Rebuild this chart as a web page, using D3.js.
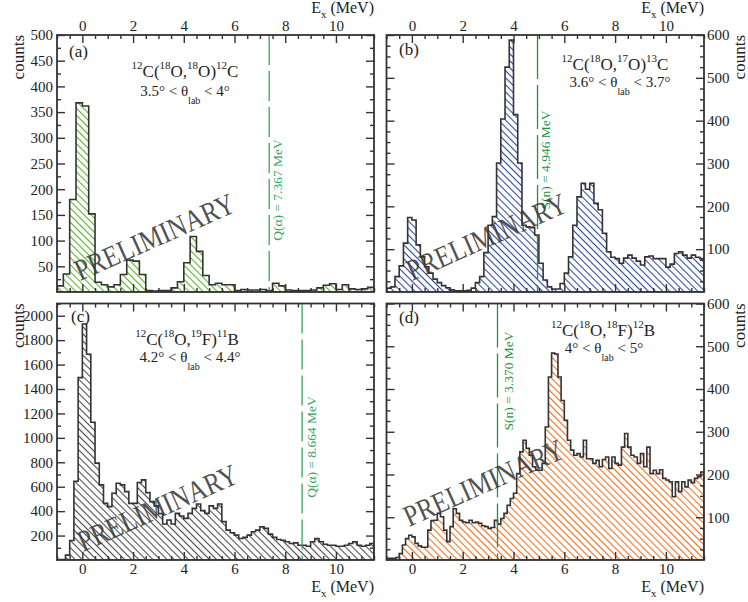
<!DOCTYPE html>
<html>
<head>
<meta charset="utf-8">
<script src="https://cdn.jsdelivr.net/npm/d3@7"></script>
<style>
  body { margin: 0; background: #fff; }
  svg { display: block; }
  text { font-family: "Liberation Serif", "Times New Roman", serif; }
</style>
</head>
<body>
<div id="chart"></div>
<script>
// --- données ---
// (a) 12C(18O,18O)12C : bins de 0.25 MeV depuis -1 MeV
const countsA = [12,35,180,368,362,152,19,14,10,14,34,62,60,34,3,2,3,3,8,20,
                 57,108,79,32,14,17,14,14,3,5,4,4,5,3,17,12,4,3,3,3,
                 4,8,13,16,5,14,6,5,6,9];
// (b) 12C(18O,17O)13C : bins de 1/6 MeV
const countsB = [9,12,36,61,114,174,168,110,82,59,
                 44,30,22,15,10,5,3,3,3,4,
                 9,22,36,92,156,176,301,404,525,588,
                 414,301,156,152,150,133,67,28,12,7,
                 7,20,44,82,156,222,254,240,254,207,
                 192,137,94,81,78,67,79,86,79,72,
                 63,82,84,78,78,78,58,65,90,94,
                 86,79,86,81,78];
// (c) 12C(18O,19F)11B : bins de 1/6 MeV
const countsC = [3,4,40,160,645,1493,1932,1685,1128,793,
                 615,464,437,546,628,615,560,464,464,634,
                 656,552,478,443,380,295,327,295,382,360,
                 341,382,423,459,404,382,443,423,459,314,
                 245,223,204,176,185,204,231,245,272,259,
                 212,185,168,162,149,135,140,121,121,113,
                 149,176,149,129,121,121,113,113,121,135,
                 149,121,113,121,135];
// (d) 12C(18O,18F)12B : bins de 1/8 MeV
const countsD = [4,4,4,6,15,35,50,58,54,39,
                 33,30,30,70,92,93,109,101,70,43,
                 78,120,109,93,89,87,93,87,89,86,
                 80,78,74,76,93,84,97,109,128,144,
                 156,202,253,280,261,245,218,210,210,226,
                 311,428,484,482,428,373,327,280,257,245,
                 249,241,280,237,237,226,233,218,235,241,
                 214,241,226,222,264,296,264,245,241,226,
                 249,218,264,202,210,202,211,191,187,183,
                 148,183,160,183,171,187,181,191,195,206];
const binWidths = [0.25, 1 / 6, 1 / 6, 0.125];
const exMin = -1, exMax = 11.5;

const xMajorTicks = [0, 2, 4, 6, 8, 10];
const yMaxima = [500, 600, 2100, 600];
const yMajorSteps = [50, 100, 200, 100];
const yMinorSteps = [25, 25, 100, 25];

const thresholdE = [7.367, 4.946, 8.664, 3.370];
const thresholdLabels = ['Q(α) = 7.367 MeV', 'S(n) = 4.946 MeV', 'Q(α) = 8.664 MeV', 'S(n) = 3.370 MeV'];
const panelLetters = ['(a)', '(b)', '(c)', '(d)'];
const reactions = [
  [['12', 'sup'], ['C('], ['18', 'sup'], ['O,'], ['18', 'sup'], ['O)'], ['12', 'sup'], ['C']],
  [['12', 'sup'], ['C('], ['18', 'sup'], ['O,'], ['17', 'sup'], ['O)'], ['13', 'sup'], ['C']],
  [['12', 'sup'], ['C('], ['18', 'sup'], ['O,'], ['19', 'sup'], ['F)'], ['11', 'sup'], ['B']],
  [['12', 'sup'], ['C('], ['18', 'sup'], ['O,'], ['18', 'sup'], ['F)'], ['12', 'sup'], ['B']]
];
const angles = [
  [['3.5° < θ'], ['lab', 'sub'], [' < 4°']],
  [['3.6° < θ'], ['lab', 'sub'], [' < 3.7°']],
  [['4.2° < θ'], ['lab', 'sub'], [' < 4.4°']],
  [['4° < θ'], ['lab', 'sub'], [' < 5°']]
];
const axisTitleX = [['E'], ['x', 'sub'], [' (MeV)']];
const watermark = 'PRELIMINARY';

// --- mise en page ---
const W = 748, H = 602;
const INK = '#333';
const layout = [
  { x0: 57,  x1: 374, y0: 35,    y1: 292, yLab: 'left',  xLab: 'top',    hatch: '#5bb52c', lineColor: '#3aa35a', labDx: 13, labY: 190,
    reac: [185, 77], ang: [185, 96], letter: [69, 57], prelim: [80, 281], lineDash: '30,6' },
  { x0: 386.5, x1: 704, y0: 35,  y1: 292, yLab: 'right', xLab: 'top',    hatch: '#2d4a9c', lineColor: '#1f9440', labDx: 12, labY: 160,
    reac: [615, 70], ang: [620, 87], letter: [399, 55], prelim: [412, 281], lineDash: '44,6' },
  { x0: 57,  x1: 374, y0: 303.5, y1: 560, yLab: 'left',  xLab: 'bottom', hatch: '#4a4a4a', lineColor: '#3aa35a', labDx: 14, labY: 447,
    reac: [187, 345], ang: [190, 362], letter: [71, 322], prelim: [83, 552], lineDash: '30,6' },
  { x0: 386.5, x1: 704, y0: 303.5, y1: 560, yLab: 'right', xLab: 'bottom', hatch: '#f07020', lineColor: '#1f9440', labDx: 16, labY: 381,
    reac: [603, 336], ang: [604, 353], letter: [399, 323], prelim: [409, 527], lineDash: '44,6' }
];
const allCounts = [countsA, countsB, countsC, countsD];

const svg = d3.select('#chart').append('svg').attr('width', W).attr('height', H);
const defs = svg.append('defs');

function richText(parent, x, y, segs, size, anchor, subShift) {
  const t = parent.append('text').attr('x', x).attr('y', y)
    .attr('font-size', size).attr('fill', '#222').attr('text-anchor', anchor || 'middle');
  let shift = 0;
  segs.forEach(s => {
    let target = 0, fs = size;
    if (s[1] === 'sup') { target = -Math.round(size * 0.45); fs = Math.round(size * 0.64); }
    if (s[1] === 'sub') { target = Math.round(size * (subShift || 0.5)); fs = Math.round(size * 0.66); }
    t.append('tspan').attr('dy', target - shift).attr('font-size', fs).text(s[0]);
    shift = target;
  });
  return t;
}

function styleAxis(g) {
  g.select('.domain').remove();
  g.selectAll('line').attr('stroke', INK).attr('stroke-width', 1.4);
  g.selectAll('text').attr('font-size', 15).attr('fill', '#222')
    .attr('font-family', '"Liberation Serif", "Times New Roman", serif');
}

layout.forEach((p, i) => {
  const counts = allCounts[i];
  const bw = binWidths[i];
  const g = svg.append('g');

  const x = d3.scaleLinear().domain([exMin, exMax]).range([p.x0, p.x1]);
  const y = d3.scaleLinear().domain([0, yMaxima[i]]).range([p.y1, p.y0]);

  // motif hachuré
  const pat = defs.append('pattern').attr('id', 'hatch' + i)
    .attr('patternUnits', 'userSpaceOnUse').attr('width', 5).attr('height', 5)
    .attr('patternTransform', 'rotate(45)');
  pat.append('line').attr('x1', 0).attr('x2', 5).attr('y1', 2.5).attr('y2', 2.5)
    .attr('stroke', p.hatch).attr('stroke-width', 1.1);

  defs.append('clipPath').attr('id', 'clip' + i).append('rect')
    .attr('x', p.x0).attr('y', p.y0).attr('width', p.x1 - p.x0).attr('height', p.y1 - p.y0);

  // histogramme en escalier
  const pts = [[exMin, 0]];
  counts.forEach((c, k) => {
    const e0 = exMin + k * bw;
    pts.push([e0, c], [Math.min(e0 + bw, exMax), c]);
  });
  pts.push([exMax, 0]);
  const line = d3.line().x(d => x(d[0])).y(d => y(d[1]));
  g.append('path').attr('d', line(pts) + 'Z')
    .attr('fill', `url(#hatch${i})`).attr('stroke', INK).attr('stroke-width', 1.6)
    .attr('stroke-linejoin', 'miter').attr('clip-path', `url(#clip${i})`);

  // seuil (ligne tiretée verte)
  const xt = x(thresholdE[i]);
  g.append('line').attr('x1', xt).attr('x2', xt).attr('y1', p.y0).attr('y2', p.y1)
    .attr('stroke', p.lineColor).attr('stroke-width', 1.3).attr('stroke-dasharray', p.lineDash);

  // axes x
  const xMinor = d3.range(exMin, exMax + 0.01, 0.5).filter(v => !xMajorTicks.includes(v));
  const gTop = g.append('g').attr('transform', `translate(0,${p.y0})`)
    .call(d3.axisTop(x).tickValues(xMajorTicks).tickSize(-8).tickPadding(4)
      .tickFormat(p.xLab === 'top' ? d3.format('d') : ''));
  const gTopMin = g.append('g').attr('transform', `translate(0,${p.y0})`)
    .call(d3.axisTop(x).tickValues(xMinor).tickSize(-4).tickFormat(''));
  const gBot = g.append('g').attr('transform', `translate(0,${p.y1})`)
    .call(d3.axisBottom(x).tickValues(xMajorTicks).tickSize(-8).tickPadding(3)
      .tickFormat(p.xLab === 'bottom' ? d3.format('d') : ''));
  const gBotMin = g.append('g').attr('transform', `translate(0,${p.y1})`)
    .call(d3.axisBottom(x).tickValues(xMinor).tickSize(-4).tickFormat(''));

  // axes y
  const yMajor = d3.range(yMajorSteps[i], yMaxima[i] + 1, yMajorSteps[i]);
  const yMinor = d3.range(yMinorSteps[i], yMaxima[i] + 1, yMinorSteps[i]).filter(v => v % yMajorSteps[i] !== 0);
  const gL = g.append('g').attr('transform', `translate(${p.x0},0)`)
    .call(d3.axisLeft(y).tickValues(yMajor).tickSize(-8).tickPadding(4)
      .tickFormat(p.yLab === 'left' ? d3.format('d') : ''));
  const gLMin = g.append('g').attr('transform', `translate(${p.x0},0)`)
    .call(d3.axisLeft(y).tickValues(yMinor).tickSize(-4).tickFormat(''));
  const gR = g.append('g').attr('transform', `translate(${p.x1},0)`)
    .call(d3.axisRight(y).tickValues(yMajor).tickSize(-8).tickPadding(3)
      .tickFormat(p.yLab === 'right' ? d3.format('d') : ''));
  const gRMin = g.append('g').attr('transform', `translate(${p.x1},0)`)
    .call(d3.axisRight(y).tickValues(yMinor).tickSize(-4).tickFormat(''));
  [gTop, gTopMin, gBot, gBotMin, gL, gLMin, gR, gRMin].forEach(styleAxis);

  // cadre
  g.append('rect').attr('x', p.x0).attr('y', p.y0)
    .attr('width', p.x1 - p.x0).attr('height', p.y1 - p.y0)
    .attr('fill', 'none').attr('stroke', INK).attr('stroke-width', 1.8);

  // textes
  g.append('text').attr('x', p.letter[0]).attr('y', p.letter[1])
    .attr('font-size', 17).attr('fill', '#222').text(panelLetters[i]);
  richText(g, p.reac[0], p.reac[1], reactions[i], 17);
  richText(g, p.ang[0], p.ang[1], angles[i], 15);

  g.append('text')
    .attr('transform', `translate(${xt + p.labDx},${p.labY}) rotate(-90)`)
    .attr('font-size', 13.5).attr('fill', p.lineColor).attr('text-anchor', 'middle')
    .text(thresholdLabels[i]);

  g.append('text')
    .attr('transform', `translate(${p.prelim[0]},${p.prelim[1]}) rotate(-24)`)
    .attr('font-size', 30).attr('fill', '#3a3a3a').attr('fill-opacity', 0.9)
    .attr('textLength', 172).attr('lengthAdjust', 'spacingAndGlyphs')
    .text(watermark);

  // titres d'axes
  const cx = p.yLab === 'left' ? 24 : 745;
  g.append('text').attr('transform', `translate(${cx},${p.y0}) rotate(-90)`)
    .attr('text-anchor', 'end').attr('font-size', 17).attr('fill', '#222').text('counts');
  const ey = p.xLab === 'top' ? 13 : 592;
  richText(g, p.x1, ey, axisTitleX, 16, 'end', 0.3);
});
</script>
</body>
</html>
